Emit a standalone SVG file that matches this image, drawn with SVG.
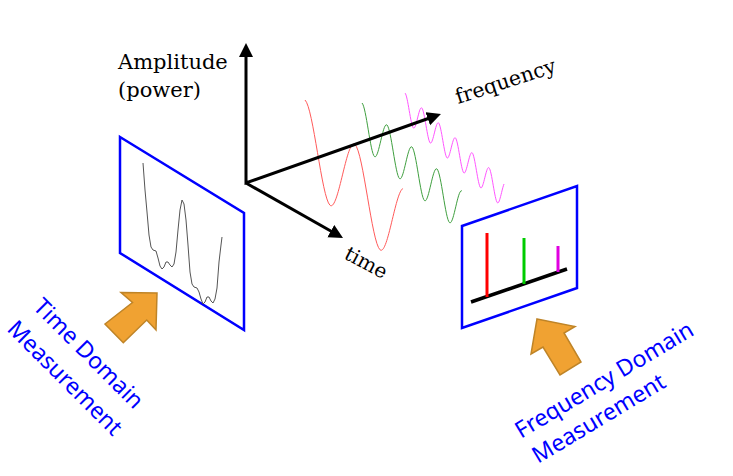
<svg xmlns="http://www.w3.org/2000/svg" width="733" height="476" viewBox="0 0 733 476">
<defs>
<style>
.ax{fill:none;stroke:#000;stroke-width:3}
.panel{fill:none;stroke:#0000ff;stroke-width:2.5}
.wave{fill:none;stroke-width:1}
.ser{font-family:"DejaVu Serif","Liberation Serif",serif;fill:#000}
.lbl{font-family:"Noto Sans","Open Sans",sans-serif;font-size:23px;fill:#0000ff}
.bigarrow{fill:#f0a232;stroke:#bf8427;stroke-width:1.5;stroke-linejoin:miter}
</style>
<marker id="ah" markerUnits="userSpaceOnUse" markerWidth="16" markerHeight="16" refX="8" refY="7" orient="auto-start-reverse">
<path d="M0,0 L14,7 L0,14 z" fill="#000"/>
</marker>
</defs>
<rect width="733" height="476" fill="#fff"/>

<g id="waves">
<path class="wave" stroke="#ff5a5a" d="M305,100 C313.33,107.42 321.67,197.83 330,205.25 C338.33,212.67 346.67,137.08 355,144.5 C363.33,151.92 371.67,242.33 380,249.75 C387.67,256.6 395.33,191.6 403,188.5"/>
<path class="wave" stroke="#3f9f3f" d="M362,103 C366.17,106.67 370.33,152.93 374.5,156.6 C378.67,160.27 382.83,121.33 387,125 C391.17,128.67 395.33,174.93 399.5,178.6 C403.67,182.27 407.83,143.33 412,147 C416.17,150.67 420.33,196.93 424.5,200.6 C428.67,204.27 432.83,165.33 437,169 C441.17,172.67 445.33,218.93 449.5,222.6 C453.67,226.27 457.83,187.33 462,191"/>
<path class="wave" stroke="#ff55ff" d="M405,93 C407.8,95.49 410.6,125.49 413.4,127.98 C416.2,130.47 419,105.46 421.8,107.95 C424.6,110.44 427.4,140.44 430.2,142.93 C433,145.42 435.8,120.41 438.6,122.9 C441.4,125.39 444.2,155.39 447,157.88 C449.8,160.37 452.6,135.37 455.4,137.86 C458.2,140.35 461,170.34 463.8,172.83 C466.6,175.32 469.4,150.31 472.2,152.8 C475,155.29 477.8,185.29 480.6,187.78 C483.4,190.27 486.2,165.27 489,167.76 C491.8,170.25 494.6,200.25 497.4,202.74 C499.6,204.7 501.8,189.3 504,184"/>
</g>

<g id="connectors">
<path class="ax" d="M246,49 V183 L435.3,116" marker-start="url(#ah)" marker-end="url(#ah)"/>
<path class="ax" d="M246,183 L337.8,235" marker-end="url(#ah)"/>
</g>

<g id="axis-labels">
<text class="ser" x="118" y="69" font-size="21">Amplitude</text>
<text class="ser" x="118" y="97" font-size="21">(power)</text>
<text class="ser" font-size="20.5" transform="translate(458,104) rotate(-18)">frequency</text>
<text class="ser" font-size="20" transform="translate(343,258) rotate(28)">time</text>
</g>

<g id="time-panel">
<polygon class="panel" points="120,137 244,213 244,330 120,253"/>
<polyline fill="none" stroke="#555" stroke-width="1" stroke-linejoin="round" points="143,163 145,190 147,212 149,235 151,247 153,250 156,251 158,258 160,266 162,269 164,267 166,262 168,262 170,265 172,267 174,264 176,252 178,230 180,210 182,200 184,204 186,220 188,245 190,272 192,284 194,287 197,288 199,292 201,299 203,304 205,302 207,297 209,297 211,301 213,303 215,299 217,288 219,262 221,245 222,237"/>
</g>

<g id="freq-panel">
<polygon class="panel" points="462,226 577,186 577,288 462,328"/>
<line x1="471" y1="302" x2="567" y2="269" stroke="#000" stroke-width="3.5"/>
<line x1="487" y1="233" x2="487" y2="297" stroke="#ff0000" stroke-width="3"/>
<line x1="524" y1="238" x2="524" y2="284" stroke="#00cc00" stroke-width="3"/>
<line x1="558" y1="246" x2="558" y2="272" stroke="#e000e0" stroke-width="3"/>
</g>

<g id="time-arrow">
<polygon class="bigarrow" points="121,292.5 157,293 156,330 146.7,320 123.3,342.7 105,324 132.5,302.5"/>
</g>
<g id="freq-arrow">
<polygon class="bigarrow" points="537,319 575,326.5 564,333 581,362 560,375 543,347 531,354"/>
</g>

<g id="time-label">
<text class="lbl" transform="translate(32,308) rotate(45)">Time Domain</text>
<text class="lbl" transform="translate(6,330) rotate(45)">Measurement</text>
</g>
<g id="freq-label">
<text class="lbl" transform="translate(521,439) rotate(-31)">Frequency Domain</text>
<text class="lbl" transform="translate(538,464) rotate(-31)">Measurement</text>
</g>
</svg>
